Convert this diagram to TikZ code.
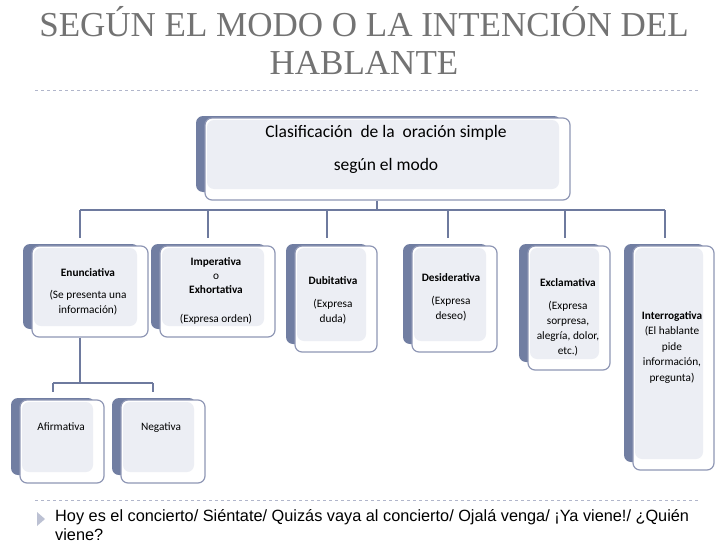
\documentclass[tikz,border=0pt]{standalone}
\usepackage{fontspec}
\setmainfont{Carlito}
\newfontfamily\titlefont{Liberation Serif}
\newfontfamily\bodyfont{Liberation Sans}
\usetikzlibrary{calc}
\definecolor{pizarra}{HTML}{717EA2}
\definecolor{borde}{HTML}{8F97B5}
\definecolor{claro}{HTML}{ECEEF4}
\definecolor{linea}{HTML}{6E7A9E}
\definecolor{titulo}{HTML}{5A5A5A}
\tikzset{
  atras/.style={fill=pizarra,rounded corners=7pt,inner sep=0pt},
  frente/.style={draw=borde,line width=1.2pt,fill=white,rounded corners=7pt,inner sep=0pt,
    path picture={\fill[claro] ([shift={(2pt,-2pt)}]path picture bounding box.north west)
      rectangle ([shift={(-11pt,11pt)}]path picture bounding box.south east);}},
  texto/.style={align=center,font=\fontsize{11.3pt}{15pt}\selectfont,text=black},
  rama/.style={draw=linea,line width=1.6pt}
}
% card: name, x0, y0, x1, y1 (front box, px)
\newcommand{\carta}[5]{%
  \pgfmathsetmacro{\ancho}{#4-#2}\pgfmathsetmacro{\alto}{#5-#3}%
  \node[atras,minimum width=\ancho pt,minimum height=\alto pt-6pt] (#1-b) at ({(#2+#4)/2-9},{(#3+#5)/2-5}) {};
  \node[frente,minimum width=\ancho pt,minimum height=\alto pt] (#1) at ({(#2+#4)/2},{(#3+#5)/2}) {};
}
\begin{document}
\begin{tikzpicture}[x=1pt,y=-1pt]
\useasboundingbox (0,0) rectangle (728,546);

% title
\node[font=\titlefont\fontsize{35pt}{38pt}\selectfont,text=titulo!85,align=center] (titulo) at (364,41)
  {SEGÚN EL MODO O LA INTENCIÓN DEL\\HABLANTE};
\draw[borde!70,dashed] (35,90) -- (700,90);
\draw[borde!70,dashed] (35,500) -- (700,500);

% cards
\carta{raiz}{205}{118}{570}{200}
\carta{enun}{32}{246}{148}{337}
\carta{imper}{160}{246}{275}{337}
\carta{dubi}{295}{246}{377}{352}
\carta{desid}{412}{246}{497}{352}
\carta{excl}{528}{246}{610}{370}
\carta{inter}{633}{246}{714}{470}
\carta{afir}{20}{400}{104}{483}
\carta{nega}{121}{400}{205}{483}

% connectors
\coordinate (bus) at (377,210);
\coordinate (bus2) at (80,383);
\draw[rama] (bus |- raiz.south) -- (bus);
\draw[rama] (80,210) -- (665,210);
\foreach \n/\x in {enun/80,imper/208,dubi/327,desid/448,excl/565,inter/665}
  \draw[rama] (\x,210) -- (\x,238);
\draw[rama] (enun.south -| bus2) -- (bus2);
\draw[rama] (53,383) -- (153,383);
\draw[rama] (53,383) -- (53,392);
\draw[rama] (153,383) -- (153,392);

% texts
\node[texto,font=\fontsize{17.5pt}{33pt}\selectfont] (t-raiz) at (386,149) {Clasificación\ \ de la\ \ oración simple\\según el modo};
\node[texto] (t-enun) at (88,292) {\textbf{Enunciativa}\\[7pt](Se presenta una\\información)};
\node[texto] (t-imper) at (216,291) {\textbf{Imperativa}\\[-1pt]o\\[-1pt]\textbf{Exhortativa}\\[14pt](Expresa orden)};
\node[texto] (t-dubi) at (333,300) {\textbf{Dubitativa}\\[8pt](Expresa\\duda)};
\node[texto] (t-desid) at (451,297) {\textbf{Desiderativa}\\[8pt](Expresa\\deseo)};
\node[texto] (t-excl) at (568,317) {\textbf{Exclamativa}\\[8pt](Expresa\\sorpresa,\\alegría, dolor,\\etc.)};
\node[texto,font=\fontsize{11.3pt}{15.5pt}\selectfont] (t-inter) at (672,347) {\textbf{Interrogativa}\\(El hablante\\pide\\información,\\pregunta)};
\node[texto,anchor=base] (t-afir) at (61,430) {Afirmativa};
\node[texto,anchor=base] (t-nega) at (161,430) {Negativa};

% bullet text
\fill[borde!60] (37,512) -- (45,519) -- (37,526) -- cycle;
\node[font=\bodyfont\fontsize{16.3pt}{19pt}\selectfont,align=left,anchor=north west,inner sep=0pt] (ejemplos) at (55,509)
  {Hoy es el concierto/ Siéntate/ Quizás vaya al concierto/ Ojalá venga/ ¡Ya viene!/ ¿Quién\\viene?};
\end{tikzpicture}
\end{document}
